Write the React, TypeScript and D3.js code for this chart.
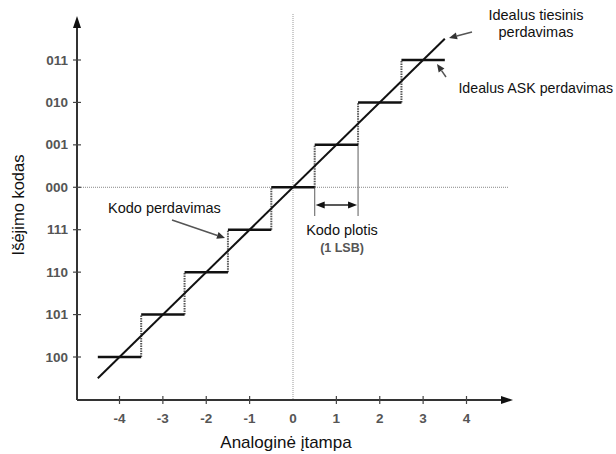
import React from "react";
import * as d3 from "d3";

const codeLabels = ["100", "101", "110", "111", "000", "001", "010", "011"];
const codeValues = [-4, -3, -2, -1, 0, 1, 2, 3];
const xTickValues = [-4, -3, -2, -1, 0, 1, 2, 3, 4];
const idealRange = [-4.5, 3.5];
const lsbRange = [0.5, 1.5];

const W = 616;
const H = 454;
const FONT = "'Liberation Sans', Arial, sans-serif";

export default function App() {
  const x = d3.scaleLinear().domain([-4, 4]).range([119.5, 466.5]);
  const y = d3.scaleLinear().domain([-4, 3]).range([357, 60]);
  const axX = 77;
  const axY = 400;
  const arrowHead = (px: number, py: number, dir: "up" | "right") =>
    dir === "up"
      ? `M${px},${py} L${px - 4},${py + 12} L${px + 4},${py + 12} Z`
      : `M${px},${py} L${px - 12},${py - 4} L${px - 12},${py + 4} Z`;

  const line = d3.line<[number, number]>().x((d) => x(d[0])).y((d) => y(d[1]));

  const pointer = (x1: number, y1: number, x2: number, y2: number, key: string) => {
    const ang = Math.atan2(y2 - y1, x2 - x1);
    const L = 8, Wd = 3.5;
    const bx = x2 - L * Math.cos(ang), by = y2 - L * Math.sin(ang);
    const px = -Math.sin(ang) * Wd, py = Math.cos(ang) * Wd;
    return (
      <g key={key}>
        <line x1={x1} y1={y1} x2={bx} y2={by} stroke="#555" strokeWidth={1.5} />
        <path d={`M${x2},${y2} L${bx + px},${by + py} L${bx - px},${by - py} Z`} fill="#333" />
      </g>
    );
  };

  return (
    <svg width={W} height={H} style={{ position: "absolute", left: 0, top: 0, background: "#fff" }}>
      {/* reference dotted lines */}
      <line x1={x(0)} y1={14} x2={x(0)} y2={axY} stroke="#999" strokeWidth={1} strokeDasharray="1,1" />
      <line x1={axX} y1={y(0)} x2={509} y2={y(0)} stroke="#888" strokeWidth={1} strokeDasharray="1,1" />

      {/* axes */}
      <line x1={axX} y1={axY} x2={axX} y2={24} stroke="#333" strokeWidth={2} />
      <path d={arrowHead(axX, 16, "up")} fill="#111" />
      <line x1={axX} y1={axY} x2={502} y2={axY} stroke="#333" strokeWidth={2} />
      <path d={arrowHead(513, axY, "right")} fill="#111" />

      {/* y ticks */}
      {codeValues.map((v, i) => (
        <g key={"yt" + i}>
          <line x1={axX - 4} x2={axX + 4} y1={y(v)} y2={y(v)} stroke="#444" strokeWidth={1.2} />
          <text x={68} y={y(v) + 4.5} textAnchor="end" fontFamily={FONT} fontSize={13.5} fontWeight="bold" fill="#555">
            {codeLabels[i]}
          </text>
        </g>
      ))}
      {/* x ticks */}
      {xTickValues.map((v) => (
        <g key={"xt" + v}>
          {v !== 0 && <line x1={x(v)} x2={x(v)} y1={axY - 4} y2={axY + 4} stroke="#444" strokeWidth={1.2} />}
          <text x={x(v)} y={axY + 23} textAnchor="middle" fontFamily={FONT} fontSize={13.5} fontWeight="bold" fill="#555">
            {v}
          </text>
        </g>
      ))}

      {/* risers (dotted) */}
      {codeValues.slice(0, -1).map((v) => (
        <line key={"r" + v} x1={x(v + 0.5)} x2={x(v + 0.5)} y1={y(v)} y2={y(v + 1)} stroke="#555" strokeWidth={2} strokeDasharray="1.5,1" />
      ))}

      {/* LSB extension lines and dimension arrow */}
      <line x1={x(lsbRange[0])} x2={x(lsbRange[0])} y1={y(0)} y2={216} stroke="#777" strokeWidth={1.2} />
      <line x1={x(lsbRange[1])} x2={x(lsbRange[1])} y1={y(1)} y2={216} stroke="#777" strokeWidth={1.2} />
      <line x1={x(lsbRange[0]) + 6} x2={x(lsbRange[1]) - 6} y1={205} y2={205} stroke="#222" strokeWidth={1.5} />
      <path d={`M${x(lsbRange[0]) + 1},205 L${x(lsbRange[0]) + 10},201.5 L${x(lsbRange[0]) + 10},208.5 Z`} fill="#111" />
      <path d={`M${x(lsbRange[1]) - 1},205 L${x(lsbRange[1]) - 10},201.5 L${x(lsbRange[1]) - 10},208.5 Z`} fill="#111" />

      {/* steps */}
      {codeValues.map((v) => (
        <line key={"s" + v} x1={x(v - 0.5)} x2={x(v + 0.5)} y1={y(v)} y2={y(v)} stroke="#111" strokeWidth={2.5} />
      ))}

      {/* ideal line */}
      <path d={line([[idealRange[0], idealRange[0]], [idealRange[1], idealRange[1]]]) || ""} stroke="#111" strokeWidth={2} fill="none" />

      {/* annotations */}
      <text x={536} y={20} textAnchor="middle" fontFamily={FONT} fontSize={14.5} fill="#111">Idealus tiesinis</text>
      <text x={536} y={37} textAnchor="middle" fontFamily={FONT} fontSize={14.5} fill="#111">perdavimas</text>
      {pointer(472, 32, 449, 38, "p1")}
      <text x={613} y={93} textAnchor="end" fontFamily={FONT} fontSize={14.2} fill="#111">Idealus ASK perdavimas</text>
      {pointer(446, 77, 437, 64, "p2")}
      <text x={108} y={213} fontFamily={FONT} fontSize={14.5} fill="#111">Kodo perdavimas</text>
      {pointer(172, 220, 225, 238, "p3")}
      <text x={342} y={235} textAnchor="middle" fontFamily={FONT} fontSize={14.5} fill="#111">Kodo plotis</text>
      <text x={342} y={252} textAnchor="middle" fontFamily={FONT} fontSize={12.5} fontWeight="bold" fill="#555">(1 LSB)</text>

      {/* axis titles */}
      <text x={286} y={448} textAnchor="middle" fontFamily={FONT} fontSize={17} fill="#111">Analoginė įtampa</text>
      <text transform={`translate(24,${205}) rotate(-90)`} textAnchor="middle" fontFamily={FONT} fontSize={16.5} fill="#111">Išėjimo kodas</text>
    </svg>
  );
}
